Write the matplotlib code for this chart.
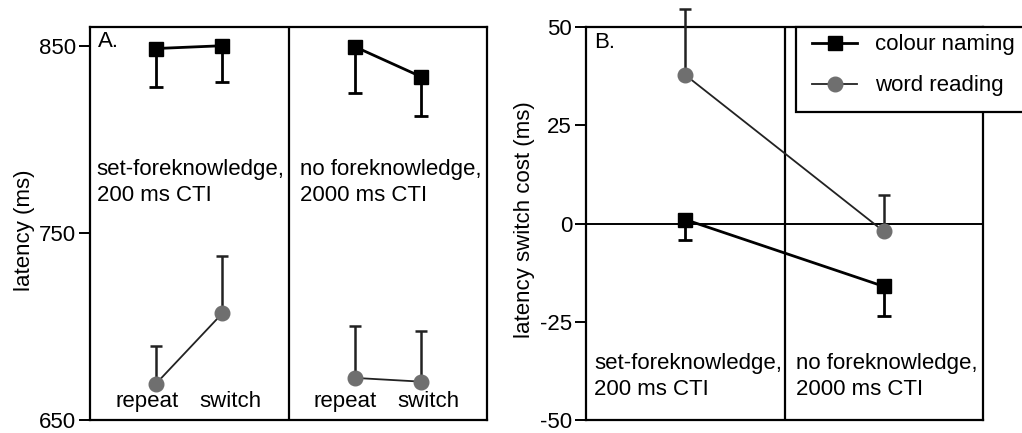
import matplotlib
matplotlib.use("Agg")
import matplotlib.pyplot as plt
from matplotlib.patches import Rectangle
from matplotlib.lines import Line2D

plt.rcParams['font.family'] = ['Liberation Sans', 'DejaVu Sans']

# ---- data ----
conditions = ["set-foreknowledge,\n200 ms CTI", "no foreknowledge,\n2000 ms CTI"]
trial_types = ["repeat", "switch"]
# Panel A: latency (ms), order: [cond1 repeat, cond1 switch, cond2 repeat, cond2 switch]
colour_latency = [848.5, 850.0, 849.5, 833.5]
colour_latency_err = [20.5, 19.5, 25.0, 21.0]
word_latency = [669.5, 707.0, 672.5, 670.5]
word_latency_err = [20.0, 30.5, 27.5, 27.0]
# Panel B: switch cost (ms)
colour_cost = [1.0, -16.0]
colour_cost_err = [5.2, 7.5]
word_cost = [37.8, -2.0]
word_cost_err = [16.7, 9.2]
series_names = ["colour naming", "word reading"]

GREY = "#6f6f6f"
FS = 16.0

fig = plt.figure(figsize=(10.22, 4.33), dpi=100)
W, H = 1022, 433
axA = fig.add_axes([90 / W, 13 / H, 397 / W, 393 / H])
axB = fig.add_axes([586 / W, 13 / H, 397 / W, 393 / H])

for ax in (axA, axB):
    for s in ax.spines.values():
        s.set_linewidth(1.6)
    ax.tick_params(axis='y', direction='out', length=8, width=1.4, labelsize=FS, pad=2)
    ax.set_xticks([])

# ---- Panel A ----
xA = [1, 2, 4, 5]
axA.set_xlim(0, 6)
axA.set_ylim(650, 860)
axA.set_yticks([650, 750, 850])
axA.axvline(3, color='black', lw=1.6)
for seg in (slice(0, 2), slice(2, 4)):
    xs = xA[seg]
    axA.errorbar(xs, colour_latency[seg], yerr=[colour_latency_err[seg], [0, 0]],
                 color='black', lw=2.0, marker='s', ms=10, mfc='black', mec='black',
                 ecolor='black', elinewidth=2.0, capsize=5, capthick=2.0, zorder=3)
    axA.errorbar(xs, word_latency[seg], yerr=[[0, 0], word_latency_err[seg]],
                 color='#222222', lw=1.3, marker='o', ms=10.5, mfc=GREY, mec=GREY,
                 ecolor='#222222', elinewidth=1.8, capsize=4, capthick=1.8, zorder=3)
for i, x in enumerate(xA):
    off = -0.14 if i % 2 == 0 else 0.12
    axA.text(x + off, 660, trial_types[i % 2], fontsize=FS, ha='center', va='center')
axA.text(0.1, 777, conditions[0], fontsize=FS, ha='left', va='center', linespacing=1.32)
axA.text(3.18, 777, conditions[1], fontsize=FS, ha='left', va='center', linespacing=1.32)
axA.text(0.12, 852, "A.", fontsize=FS, ha='left', va='center')
axA.set_ylabel("latency (ms)", fontsize=FS)
axA.yaxis.set_label_coords(-0.139, 0.483)

# ---- Panel B ----
xB = [1, 3]
axB.set_xlim(0, 4)
axB.set_ylim(-50, 50)
axB.set_yticks([-50, -25, 0, 25, 50])
axB.set_yticklabels(["-50", "-25", "0", "25", "50"])
axB.axvline(2, color='black', lw=1.6)
axB.axhline(0, color='black', lw=1.4)
h1 = axB.errorbar(xB, colour_cost, yerr=[colour_cost_err, [0, 0]],
                  color='black', lw=2.0, marker='s', ms=10, mfc='black', mec='black',
                  ecolor='black', elinewidth=2.0, capsize=5, capthick=2.0, zorder=3,
                  label=series_names[0])
h2 = axB.errorbar(xB, word_cost, yerr=[[0, 0], word_cost_err],
                  color='#222222', lw=1.3, marker='o', ms=10.5, mfc=GREY, mec=GREY,
                  ecolor='#222222', elinewidth=1.8, capsize=4, capthick=1.8, zorder=3,
                  label=series_names[1])
for c in h2.get_children():
    c.set_clip_on(False)
axB.text(0.08, -39, conditions[0], fontsize=FS, ha='left', va='center', linespacing=1.32)
axB.text(2.12, -39, conditions[1], fontsize=FS, ha='left', va='center', linespacing=1.32)
axB.text(0.08, 46, "B.", fontsize=FS, ha='left', va='center')
axB.set_ylabel("latency switch cost (ms)", fontsize=FS)
axB.yaxis.set_label_coords(-0.128, 0.51)

# legend box (extends past the figure edge)
rect = Rectangle((796 / W, (H - 112) / H), 0.3, 85 / H, transform=fig.transFigure,
                 facecolor='white', edgecolor='black', lw=1.6, zorder=5)
fig.patches.append(rect)
lh1 = Line2D([], [], color='black', lw=2.0, marker='s', ms=10, mfc='black', mec='black')
lh2 = Line2D([], [], color='#222222', lw=1.3, marker='o', ms=10.5, mfc=GREY, mec=GREY)
leg = fig.legend([lh1, lh2], series_names, loc='upper left',
                 bbox_to_anchor=(808 / W, (H - 30) / H), frameon=False, fontsize=FS,
                 handlelength=2.0, handletextpad=0.8, labelspacing=0.9, borderpad=0.2,
                 borderaxespad=0)
leg.set_zorder(6)

fig.savefig("out.png", dpi=100)
